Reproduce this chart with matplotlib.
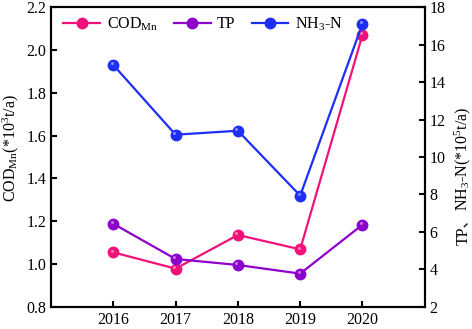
import matplotlib
matplotlib.use("Agg")
import matplotlib.pyplot as plt
from matplotlib.transforms import offset_copy

years = [2016, 2017, 2018, 2019, 2020]
cod_mn = [1.055, 0.979, 1.136, 1.069, 2.07]
tp = [6.44, 4.56, 4.24, 3.78, 6.39]
nh3_n = [14.91, 11.19, 11.40, 7.94, 17.11]

plt.rcParams['font.family'] = ['Liberation Serif', 'Noto Sans CJK SC']
plt.rcParams['font.size'] = 11.5
plt.rcParams['mathtext.fontset'] = 'custom'
plt.rcParams['mathtext.rm'] = 'Liberation Serif'
plt.rcParams['mathtext.it'] = 'Liberation Serif:italic'

pink = '#F0127A'
purple = '#8E00CC'
blue = '#1E2EF5'

fig = plt.figure(figsize=(4.72, 3.29), dpi=100)
ax = fig.add_axes([0.108, 0.0669, 0.792, 0.9118])
ax2 = ax.twinx()


def ball_line(a, x, y, color, label):
    # line + round marker, plus a small light spot to fake the 3d ball look
    ln, = a.plot(x, y, '-o', color=color, lw=1.6, ms=7.5, mec=color, label=label)
    tr = offset_copy(a.transData, fig=fig, x=-1.2, y=1.2, units='points')
    a.plot(x, y, 'o', color='white', alpha=0.45, ms=2.2, mec='none', transform=tr)
    return ln


l1 = ball_line(ax, years, cod_mn, pink, 'COD$_{\\mathrm{Mn}}$')
l2 = ball_line(ax2, years, tp, purple, 'TP')
l3 = ball_line(ax2, years, nh3_n, blue, 'NH$_3$-N')

ax.set_xlim(2015, 2021)
ax.set_xticks(years)
ax.set_ylim(0.8, 2.2)
ax.set_yticks([0.8, 1.0, 1.2, 1.4, 1.6, 1.8, 2.0, 2.2])
ax.set_yticklabels(['%.1f' % v for v in ax.get_yticks()])
ax2.set_ylim(2, 18)
ax2.set_yticks(range(2, 19, 2))

for a in (ax, ax2):
    for s in a.spines.values():
        s.set_linewidth(1.5)
ax.tick_params(axis='both', direction='in', length=4, width=1.5, top=False, right=False)
ax2.tick_params(axis='y', direction='in', length=4, width=1.5)

ax.set_ylabel('COD$_{\\mathrm{Mn}}$(*10$^{3}$t/a)')
ax.yaxis.set_label_coords(-0.08, 0.53)

ax.legend(handles=[l1, l2, l3], loc='upper left', ncol=3, frameon=False,
          bbox_to_anchor=(-0.005, 1.02), handlelength=2.3, handletextpad=0.4,
          columnspacing=1.0, fontsize=11.5)

# right label: the 、 needs a CJK font, the rest uses mathtext, so two pieces
fig.canvas.draw()
r = fig.canvas.get_renderer()
x0, y0 = 0.99, 0.255
t1 = fig.text(x0, y0, 'TP、', rotation=90, rotation_mode='anchor', ha='left',
              va='baseline', family=['Liberation Serif', 'Noto Sans CJK SC'])
h = t1.get_window_extent(r).height / fig.bbox.height
fig.text(x0, y0 + h, 'NH$_3$-N(*10$^{5}$t/a)', rotation=90, rotation_mode='anchor',
         ha='left', va='baseline')

fig.savefig('out.png', dpi=100)
